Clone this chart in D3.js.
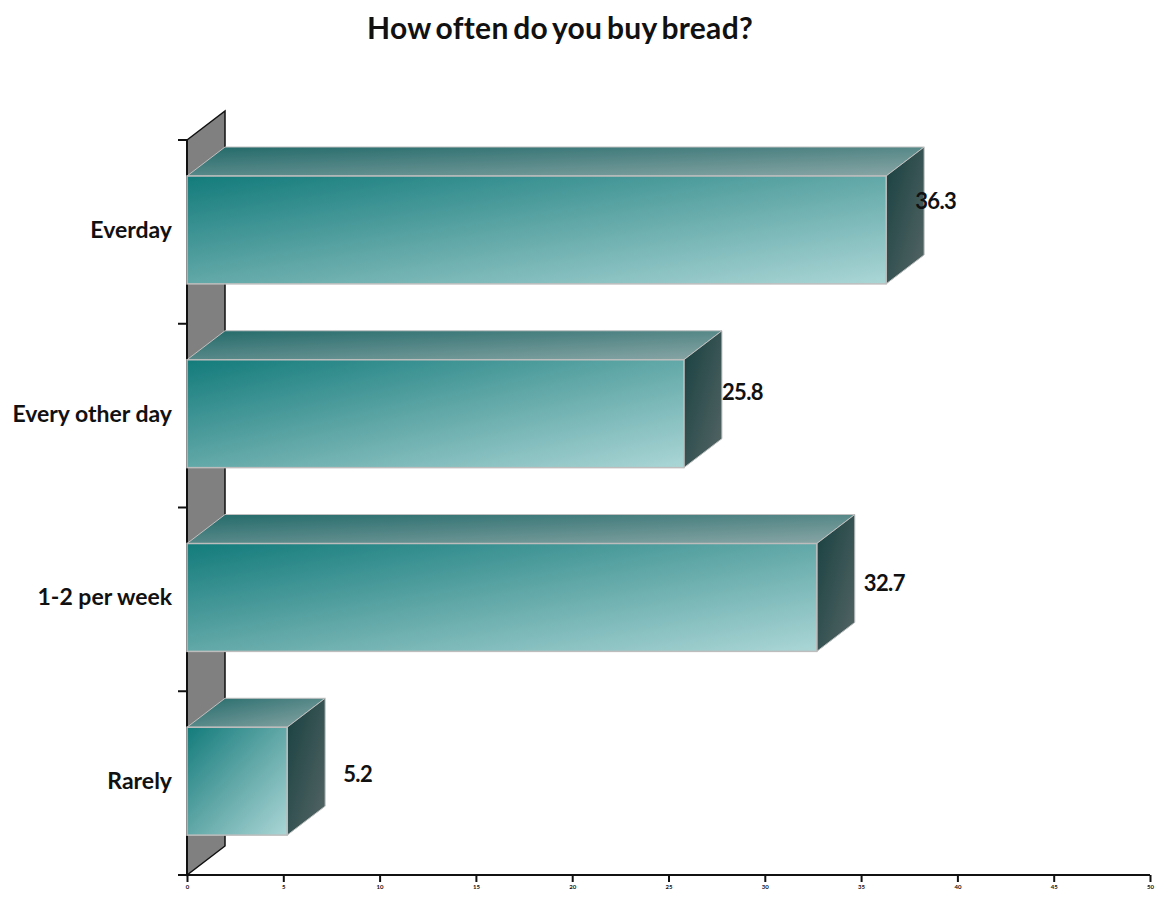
<!DOCTYPE html>
<html>
<head>
<meta charset="utf-8">
<script src="https://cdn.jsdelivr.net/npm/d3@7"></script>
<style>
  html, body { margin: 0; padding: 0; background: #fff; }
  svg { display: block; }
</style>
</head>
<body>
<svg id="chart" width="1160" height="906"></svg>
<script>
const categories = ["Everday", "Every other day", "1-2 per week", "Rarely"];
const values = [36.3, 25.8, 32.7, 5.2];
const xTicks = [0, 5, 10, 15, 20, 25, 30, 35, 40, 45, 50];
const title = "How often do you buy bread?";

const svg = d3.select("#chart");
const pLeft = 187, pRight = 1150, pTop = 140, pBottom = 875;
const dx = 38, dy = -29;

const x = d3.scaleLinear().domain([0, 50]).range([pLeft, pRight]);
const y = d3.scaleBand().domain(categories).range([pTop, pBottom]).padding(0);

const defs = svg.append("defs");
function lg(id, x1, y1, x2, y2, stops) {
  const g = defs.append("linearGradient").attr("id", id)
    .attr("x1", x1).attr("y1", y1).attr("x2", x2).attr("y2", y2);
  stops.forEach(s => g.append("stop").attr("offset", s[0]).attr("stop-color", s[1]));
}
lg("gFront", 0, 0, 1, 1, [[0, "#137b7b"], [0.5, "#62a8a8"], [1, "#abd6d6"]]);
lg("gTop", 0, 0, 1, 1, [[0, "#236a6a"], [1, "#8aa6a6"]]);
lg("gSide", 0, 0, 1, 1, [[0, "#173f3f"], [1, "#566666"]]);

// title
svg.append("text")
  .attr("x", 560).attr("y", 31)
  .attr("text-anchor", "middle")
  .attr("dominant-baseline", "middle")
  .attr("font-family", "Lato, 'Open Sans', sans-serif")
  .attr("font-weight", "bold")
  .attr("font-size", 30)
  .attr("letter-spacing", 0.3)
  .attr("word-spacing", -3)
  .attr("fill", "#111")
  .text(title);

// back wall (left)
svg.append("path")
  .attr("d", `M${pLeft},${pTop} L${pLeft + dx},${pTop + dy} L${pLeft + dx},${pBottom + dy} L${pLeft},${pBottom} Z`)
  .attr("fill", "#808080")
  .attr("stroke", "#111")
  .attr("stroke-width", 1.5);

// y axis line and ticks
svg.append("line")
  .attr("x1", pLeft).attr("x2", pLeft).attr("y1", pTop).attr("y2", pBottom)
  .attr("stroke", "#111").attr("stroke-width", 2);
const yBounds = categories.map(c => y(c)).concat([y(categories[categories.length - 1]) + y.bandwidth()]);
svg.selectAll(".ytick").data(yBounds).enter().append("line")
  .attr("x1", pLeft - 9).attr("x2", pLeft)
  .attr("y1", d => d).attr("y2", d => d)
  .attr("stroke", "#111").attr("stroke-width", 2);

// x axis
const xAxis = d3.axisBottom(x).tickValues(xTicks).tickSize(7).tickSizeOuter(0).tickPadding(3);
const gx = svg.append("g").attr("transform", `translate(0,${pBottom})`).call(xAxis);
gx.select(".domain").attr("stroke", "#111").attr("stroke-width", 2)
  .attr("d", `M${pLeft - 9},0H${pRight}`);
gx.selectAll(".tick line").attr("stroke", "#111").attr("stroke-width", 2);
gx.selectAll(".tick text")
  .attr("font-family", "Lato, sans-serif")
  .attr("font-weight", "bold")
  .attr("font-size", 6)
  .attr("fill", "#111");

// bars
const barOff = 0.196, barFrac = 0.587;
const bars = svg.selectAll(".bar").data(categories.map((c, i) => ({ c, v: values[i] })))
  .enter().append("g").attr("class", "bar");

bars.each(function(d) {
  const g = d3.select(this);
  const y0 = y(d.c) + y.bandwidth() * barOff;
  const h = y.bandwidth() * barFrac;
  const x0 = x(0), x1 = x(d.v);
  const t = (y(d.c) - pTop) / (pBottom - pTop);
  g.append("path")
    .attr("d", `M${x0},${y0} L${x0 + dx},${y0 + dy} L${x1 + dx},${y0 + dy} L${x1},${y0} Z`)
    .attr("fill", "url(#gTop)")
    .attr("stroke", "#c0c0c0").attr("stroke-width", 1);
  g.append("path")
    .attr("d", `M${x1},${y0} L${x1 + dx},${y0 + dy} L${x1 + dx},${y0 + h + dy} L${x1},${y0 + h} Z`)
    .attr("fill", "url(#gSide)")
    .attr("stroke", "#c0c0c0").attr("stroke-width", 1);
  g.append("rect")
    .attr("x", x0).attr("y", y0).attr("width", x1 - x0).attr("height", h)
    .attr("fill", "url(#gFront)")
    .attr("stroke", "#bdbdbd").attr("stroke-width", 1.5);
  g.append("text")
    .attr("x", x1 + 29 + 36 * t).attr("y", y0 + h / 2 - 27 + 30 * t)
    .attr("dominant-baseline", "middle")
    .attr("font-family", "Lato, sans-serif")
    .attr("font-weight", "bold")
    .attr("font-size", 22)
    .attr("letter-spacing", -0.6)
    .attr("fill", "#111")
    .text(d.v.toFixed(1));
  g.append("text")
    .attr("x", 172).attr("y", y0 + h / 2 + 2)
    .attr("text-anchor", "end")
    .attr("dominant-baseline", "middle")
    .attr("font-family", "Lato, sans-serif")
    .attr("font-weight", "bold")
    .attr("font-size", 23)
    .attr("letter-spacing", 0)
    .attr("fill", "#111")
    .text(d.c);
});
</script>
</body>
</html>
